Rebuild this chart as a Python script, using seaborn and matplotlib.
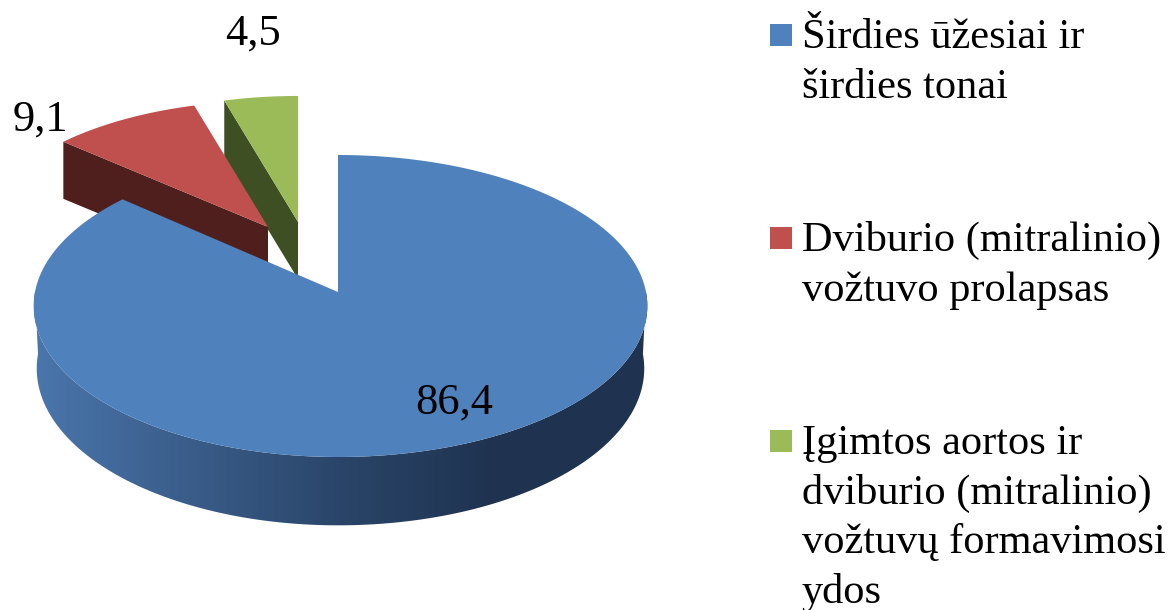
"""Exploded 3D pie of heart findings, drawn in pixel coordinates."""
import numpy as np
import matplotlib
matplotlib.use("Agg")
import matplotlib.pyplot as plt
import seaborn as sns
from matplotlib.patches import Polygon, Rectangle

shares = [86.4, 9.1, 4.5]
share_labels = ["86,4", "9,1", "4,5"]
legend_lines = [
    ["Širdies ūžesiai ir", "širdies tonai"],
    ["Dviburio (mitralinio)", "vožtuvo prolapsas"],
    ["Įgimtos aortos ir", "dviburio (mitralinio)", "vožtuvų formavimosi", "ydos"],
]
colors = ["#4f81bd", "#c0504d", "#9bbb59"]
wall_colors = ["#1f3350", "#4f1f1d", "#3f4f24"]

sns.set_theme(style="white")
plt.rcParams["font.family"] = ["Liberation Serif", "DejaVu Serif"]

CX, CY = 338, 292
RX_LEFT, RX_RIGHT, RY, TILT = 303, 308, 149.7, 0.0927
DROP = 62
APEX = [(CX, CY), (268, 227), (298, 222)]
SCALE_X = [1.0, 0.95, 0.95]
SCALE_Y = [1.0, 0.92, 0.92]
LABEL_POS = [(454, 414), (40, 131), (253, 45)]
LEGEND_X, LEGEND_Y = 770, [24, 227, 430]
LINE_H = 49.5
FONT_VALUE = 32
FONT_LEGEND = 30.5


def rim(angle_deg, sx=1.0, sy=1.0):
    # clockwise from 12 o'clock, perspective projection around the pie centre
    a = np.radians(angle_deg)
    u, v = np.sin(a), np.cos(a)
    denom = 1 + TILT * v
    return sx * np.where(u > 0, RX_RIGHT, RX_LEFT) * u / denom, -sy * RY * v / denom


def lower_rim(angle_deg):
    x, y = rim(angle_deg)
    v = np.cos(np.radians(angle_deg))
    return 0.99 * x, y + DROP / (1 + TILT * v)


fig = plt.figure(figsize=(11.73, 6.10), dpi=100)
ax = fig.add_axes([0, 0, 1, 1])
ax.set_xlim(0, 1173)
ax.set_ylim(610, 0)
ax.axis("off")

edges = np.concatenate([[0], np.cumsum(shares) / np.sum(shares) * 360])

# exploded slices go behind the big one, smallest first
for i in [2, 1]:
    px, py = APEX[i]
    sx, sy = rim(edges[i], SCALE_X[i], SCALE_Y[i])
    drop = DROP * SCALE_Y[i]
    ax.add_patch(Polygon([(px + sx, py + sy), (px, py), (px, py + drop), (px + sx, py + sy + drop)],
                         facecolor=wall_colors[i], edgecolor="none", zorder=2 + (2 - i) * 2))
    th = np.linspace(edges[i], edges[i + 1], 40)
    rx_, ry_ = rim(th, SCALE_X[i], SCALE_Y[i])
    ax.fill(np.r_[px, px + rx_], np.r_[py, py + ry_], color=colors[i], lw=0, zorder=3 + (2 - i) * 2)

# outer wall of the big slice, shaded left to right
th = np.linspace(90, 270, 200)
tx, ty = rim(th)
bx, by = lower_rim(th)
wall = Polygon(np.c_[np.r_[CX + tx, CX + bx[::-1]], np.r_[CY + ty, CY + by[::-1]]], transform=ax.transData,
               facecolor="none", edgecolor="none")
ax.add_patch(wall)
ramp = sns.blend_palette(["#4a76ac", "#3a5d8a", "#2a4569", wall_colors[0], wall_colors[0]], 256, as_cmap=True)
img = ax.imshow(np.linspace(0, 1, 256)[None, :], cmap=ramp, extent=(34, 648, 530, 290), aspect="auto", zorder=6)
img.set_clip_path(wall)
ax.set_xlim(0, 1173)
ax.set_ylim(610, 0)

th = np.linspace(edges[0], edges[1], 300)
rx_, ry_ = rim(th)
ax.fill(np.r_[CX, CX + rx_], np.r_[CY, CY + ry_], color=colors[0], lw=0, zorder=7)

for text, (x, y) in zip(share_labels, LABEL_POS):
    ax.text(x, y, text, ha="center", va="baseline", fontsize=FONT_VALUE, color="black", zorder=8)

for lines, y0, color in zip(legend_lines, LEGEND_Y, colors):
    ax.add_patch(Rectangle((LEGEND_X, y0), 22, 22, facecolor=color, edgecolor="none"))
    for n, line in enumerate(lines):
        ax.text(802, y0 + 24 + n * LINE_H, line, ha="left", va="baseline", fontsize=FONT_LEGEND, color="black")

fig.savefig("out.png", dpi=100)
